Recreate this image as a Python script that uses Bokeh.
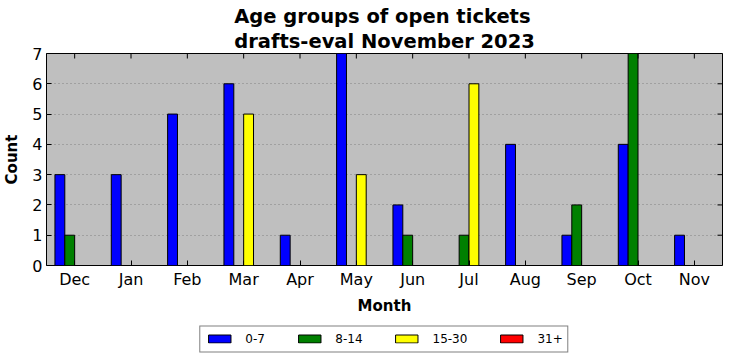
import math
from bokeh.plotting import figure
from bokeh.models import (ColumnDataSource, FixedTicker, Range1d, Legend, LegendItem)
from bokeh.layouts import column
from bokeh.transform import dodge
from bokeh.embed import file_html
from bokeh.resources import INLINE

months = ["Dec", "Jan", "Feb", "Mar", "Apr", "May", "Jun", "Jul", "Aug", "Sep", "Oct", "Nov"]
age_0_7 = [3, 3, 5, 6, 1, 7, 2, 0, 4, 1, 4, 1]
age_8_14 = [1, 0, 0, 0, 0, 0, 1, 1, 0, 2, 7, 0]
age_15_30 = [0, 0, 0, 5, 0, 3, 0, 6, 0, 0, 0, 0]
age_31_plus = [0, 0, 0, 0, 0, 0, 0, 0, 0, 0, 0, 0]
series_names = ["0-7", "8-14", "15-30", "31+"]
series_colors = ["#0000ff", "#008000", "#ffff00", "#ff0000"]
y_ticks = [0, 1, 2, 3, 4, 5, 6, 7]

FONT = "DejaVu Sans"
idx = list(range(len(months)))
source = ColumnDataSource(dict(x=idx, a=age_0_7, b=age_8_14, c=age_15_30, d=age_31_plus))

p = figure(width=732, height=323,
           x_range=Range1d(-0.5, 11.5), y_range=Range1d(0, 7),
           output_backend="svg", toolbar_location=None,
           min_border_left=46, min_border_right=10, min_border_top=53, min_border_bottom=58)

p.title.text = "Age groups of open tickets\ndrafts-eval November 2023"
p.title.text_font = FONT
p.title.text_font_size = "19.5px"
p.title.text_font_style = "bold"
p.title.text_color = "black"
p.title.text_line_height = 1.08
p.title.align = "center"
p.title.standoff = 1

p.background_fill_color = "#bfbfbf"
p.border_fill_color = "white"
p.outline_line_color = "black"
p.outline_line_width = 1

width = 0.175
offsets = [-0.2625, -0.0875, 0.0875, 0.2625]
cols = ["a", "b", "c", "d"]
for col, off, color in zip(cols, offsets, series_colors):
    p.vbar(x=dodge("x", off, range=p.x_range), top=col, width=width, bottom=0,
           source=source, fill_color=color, line_color="black", line_width=1)

# axes
p.xaxis.ticker = FixedTicker(ticks=idx)
p.xaxis.major_label_overrides = {i: m for i, m in zip(idx, months)}
p.yaxis.ticker = FixedTicker(ticks=y_ticks)
for ax in (p.xaxis[0], p.yaxis[0]):
    ax.major_tick_in = 5
    ax.major_tick_out = 0
    ax.minor_tick_line_color = None
    ax.axis_line_color = None
    ax.major_label_text_font = FONT
    ax.major_label_text_font_size = "16px"
    ax.major_label_text_color = "black"
    ax.axis_label_text_font = FONT
    ax.axis_label_text_font_size = "15px"
    ax.axis_label_text_font_style = "bold"
    ax.axis_label_text_color = "black"
    ax.major_label_standoff = 4
p.xaxis.axis_label = "Month"
p.yaxis.axis_label = "Count"
p.xaxis.axis_label_standoff = 5
p.yaxis.axis_label_standoff = 8

# inward ticks on the top and right frame edges (half of each dash is clipped by the frame)
p.scatter(x=[p.x_range.end] * len(y_ticks), y=y_ticks, marker="dash", size=10,
          line_color="black", line_width=1)
p.scatter(x=idx, y=[p.y_range.end] * len(idx), marker="dash", angle=math.pi / 2, size=10,
          line_color="black", line_width=1)

p.xgrid.visible = False
p.ygrid.ticker = FixedTicker(ticks=y_ticks)
p.ygrid.grid_line_color = "#808080"
p.ygrid.grid_line_dash = "1 3"
p.ygrid.grid_line_width = 1

# legend strip below the chart (same left/right borders so it centres on the frame)
lf = figure(width=732, height=31, x_axis_type=None, y_axis_type=None,
            output_backend="svg", toolbar_location=None,
            min_border_left=46, min_border_right=10, min_border_top=0, min_border_bottom=0)
lf.outline_line_color = None
lf.background_fill_color = "white"
lf.border_fill_color = "white"
lf.grid.visible = False
items = []
for col, color, name in zip(cols, series_colors, series_names):
    # hidden proxy renderers that only supply the legend swatches
    r = lf.vbar(x="x", top=col, width=width, source=source,
                fill_color=color, line_color="black", line_width=1, visible=False)
    items.append(LegendItem(label=name, renderers=[r]))
legend = Legend(items=items, orientation="horizontal", location="center",
                border_line_color="black", border_line_width=1,
                background_fill_color="white", background_fill_alpha=1,
                label_text_font=FONT, label_text_font_size="12px",
                label_text_color="black", inactive_fill_alpha=0,
                label_height=15, glyph_width=28, glyph_height=10,
                label_standoff=12, spacing=30, padding=5, margin=0)
lf.add_layout(legend, "center")

layout = column(p, lf, spacing=0)
open("out.html", "w").write(file_html(layout, INLINE))
